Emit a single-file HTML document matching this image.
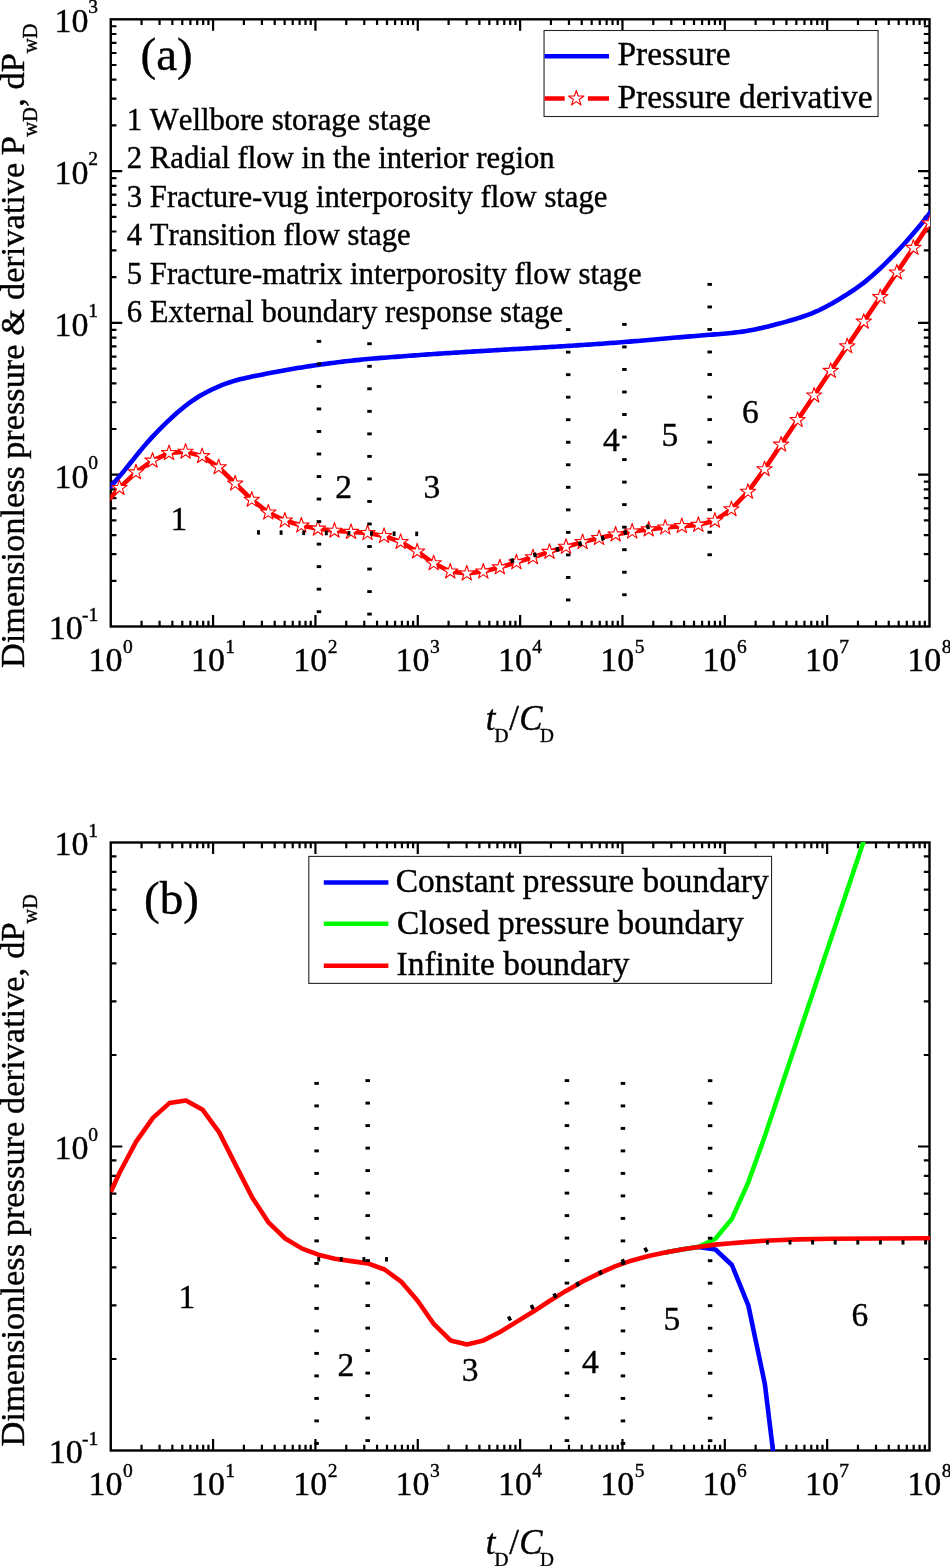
<!DOCTYPE html><html><head><meta charset="utf-8"><title>Figure</title><style>html,body{margin:0;padding:0;background:#fff}svg{display:block}text{font-family:'Liberation Serif',serif;fill:#000;stroke:#000;stroke-width:0.4px;font-kerning:none;font-variant-ligatures:none}</style></head><body>
<svg style="will-change:transform" width="950" height="1566" viewBox="0 0 950 1566">
<rect width="950" height="1566" fill="#fff"/>
<clipPath id="ca"><rect x="110.3" y="18.85" width="819.7" height="608.15"/></clipPath>
<clipPath id="cb"><rect x="110.3" y="842.05" width="819.7" height="608.95"/></clipPath>
<path d="M141.56 19.3v5.7M141.56 626.5v-5.7M159.58 19.3v5.7M159.58 626.5v-5.7M172.37 19.3v5.7M172.37 626.5v-5.7M182.29 19.3v5.7M182.29 626.5v-5.7M190.39 19.3v5.7M190.39 626.5v-5.7M197.24 19.3v5.7M197.24 626.5v-5.7M203.18 19.3v5.7M203.18 626.5v-5.7M208.41 19.3v5.7M208.41 626.5v-5.7M213.09 19.3v11.5M213.09 626.5v-11.5M243.9 19.3v5.7M243.9 626.5v-5.7M261.92 19.3v5.7M261.92 626.5v-5.7M274.71 19.3v5.7M274.71 626.5v-5.7M284.63 19.3v5.7M284.63 626.5v-5.7M292.73 19.3v5.7M292.73 626.5v-5.7M299.58 19.3v5.7M299.58 626.5v-5.7M305.52 19.3v5.7M305.52 626.5v-5.7M310.75 19.3v5.7M310.75 626.5v-5.7M315.44 19.3v11.5M315.44 626.5v-11.5M346.25 19.3v5.7M346.25 626.5v-5.7M364.27 19.3v5.7M364.27 626.5v-5.7M377.05 19.3v5.7M377.05 626.5v-5.7M386.97 19.3v5.7M386.97 626.5v-5.7M395.08 19.3v5.7M395.08 626.5v-5.7M401.93 19.3v5.7M401.93 626.5v-5.7M407.86 19.3v5.7M407.86 626.5v-5.7M413.1 19.3v5.7M413.1 626.5v-5.7M417.78 19.3v11.5M417.78 626.5v-11.5M448.59 19.3v5.7M448.59 626.5v-5.7M466.61 19.3v5.7M466.61 626.5v-5.7M479.4 19.3v5.7M479.4 626.5v-5.7M489.32 19.3v5.7M489.32 626.5v-5.7M497.42 19.3v5.7M497.42 626.5v-5.7M504.27 19.3v5.7M504.27 626.5v-5.7M510.21 19.3v5.7M510.21 626.5v-5.7M515.44 19.3v5.7M515.44 626.5v-5.7M520.12 19.3v11.5M520.12 626.5v-11.5M550.93 19.3v5.7M550.93 626.5v-5.7M568.96 19.3v5.7M568.96 626.5v-5.7M581.74 19.3v5.7M581.74 626.5v-5.7M591.66 19.3v5.7M591.66 626.5v-5.7M599.76 19.3v5.7M599.76 626.5v-5.7M606.62 19.3v5.7M606.62 626.5v-5.7M612.55 19.3v5.7M612.55 626.5v-5.7M617.79 19.3v5.7M617.79 626.5v-5.7M622.47 19.3v11.5M622.47 626.5v-11.5M653.28 19.3v5.7M653.28 626.5v-5.7M671.3 19.3v5.7M671.3 626.5v-5.7M684.09 19.3v5.7M684.09 626.5v-5.7M694 19.3v5.7M694 626.5v-5.7M702.11 19.3v5.7M702.11 626.5v-5.7M708.96 19.3v5.7M708.96 626.5v-5.7M714.89 19.3v5.7M714.89 626.5v-5.7M720.13 19.3v5.7M720.13 626.5v-5.7M724.81 19.3v11.5M724.81 626.5v-11.5M755.62 19.3v5.7M755.62 626.5v-5.7M773.64 19.3v5.7M773.64 626.5v-5.7M786.43 19.3v5.7M786.43 626.5v-5.7M796.35 19.3v5.7M796.35 626.5v-5.7M804.45 19.3v5.7M804.45 626.5v-5.7M811.3 19.3v5.7M811.3 626.5v-5.7M817.24 19.3v5.7M817.24 626.5v-5.7M822.47 19.3v5.7M822.47 626.5v-5.7M827.16 19.3v11.5M827.16 626.5v-11.5M857.96 19.3v5.7M857.96 626.5v-5.7M875.99 19.3v5.7M875.99 626.5v-5.7M888.77 19.3v5.7M888.77 626.5v-5.7M898.69 19.3v5.7M898.69 626.5v-5.7M906.8 19.3v5.7M906.8 626.5v-5.7M913.65 19.3v5.7M913.65 626.5v-5.7M919.58 19.3v5.7M919.58 626.5v-5.7M924.82 19.3v5.7M924.82 626.5v-5.7M110.75 580.8h5.7M929.5 580.8h-5.7M110.75 554.07h5.7M929.5 554.07h-5.7M110.75 535.11h5.7M929.5 535.11h-5.7M110.75 520.4h5.7M929.5 520.4h-5.7M110.75 508.38h5.7M929.5 508.38h-5.7M110.75 498.21h5.7M929.5 498.21h-5.7M110.75 489.41h5.7M929.5 489.41h-5.7M110.75 481.65h5.7M929.5 481.65h-5.7M110.75 474.7h11.5M929.5 474.7h-11.5M110.75 429h5.7M929.5 429h-5.7M110.75 402.27h5.7M929.5 402.27h-5.7M110.75 383.31h5.7M929.5 383.31h-5.7M110.75 368.6h5.7M929.5 368.6h-5.7M110.75 356.58h5.7M929.5 356.58h-5.7M110.75 346.41h5.7M929.5 346.41h-5.7M110.75 337.61h5.7M929.5 337.61h-5.7M110.75 329.85h5.7M929.5 329.85h-5.7M110.75 322.9h11.5M929.5 322.9h-11.5M110.75 277.2h5.7M929.5 277.2h-5.7M110.75 250.47h5.7M929.5 250.47h-5.7M110.75 231.51h5.7M929.5 231.51h-5.7M110.75 216.8h5.7M929.5 216.8h-5.7M110.75 204.78h5.7M929.5 204.78h-5.7M110.75 194.61h5.7M929.5 194.61h-5.7M110.75 185.81h5.7M929.5 185.81h-5.7M110.75 178.05h5.7M929.5 178.05h-5.7M110.75 171.1h11.5M929.5 171.1h-11.5M110.75 125.4h5.7M929.5 125.4h-5.7M110.75 98.67h5.7M929.5 98.67h-5.7M110.75 79.71h5.7M929.5 79.71h-5.7M110.75 65h5.7M929.5 65h-5.7M110.75 52.98h5.7M929.5 52.98h-5.7M110.75 42.81h5.7M929.5 42.81h-5.7M110.75 34.01h5.7M929.5 34.01h-5.7M110.75 26.25h5.7M929.5 26.25h-5.7" stroke="#000" stroke-width="2.2" fill="none"/>
<text x="122.55" y="671.1" font-size="34" text-anchor="end">10</text><text x="122.95" y="653.1" font-size="19.5">0</text>
<text x="224.89" y="671.1" font-size="34" text-anchor="end">10</text><text x="225.29" y="653.1" font-size="19.5">1</text>
<text x="327.24" y="671.1" font-size="34" text-anchor="end">10</text><text x="327.64" y="653.1" font-size="19.5">2</text>
<text x="429.58" y="671.1" font-size="34" text-anchor="end">10</text><text x="429.98" y="653.1" font-size="19.5">3</text>
<text x="531.92" y="671.1" font-size="34" text-anchor="end">10</text><text x="532.33" y="653.1" font-size="19.5">4</text>
<text x="634.27" y="671.1" font-size="34" text-anchor="end">10</text><text x="634.67" y="653.1" font-size="19.5">5</text>
<text x="736.61" y="671.1" font-size="34" text-anchor="end">10</text><text x="737.01" y="653.1" font-size="19.5">6</text>
<text x="838.96" y="671.1" font-size="34" text-anchor="end">10</text><text x="839.36" y="653.1" font-size="19.5">7</text>
<text x="941.3" y="671.1" font-size="34" text-anchor="end">10</text><text x="941.7" y="653.1" font-size="19.5">8</text>
<text x="82.8" y="639.3" font-size="34" text-anchor="end">10</text><text x="82" y="620.6" font-size="19.5">-1</text>
<text x="88.5" y="487.5" font-size="34" text-anchor="end">10</text><text x="88.3" y="468.8" font-size="19.5">0</text>
<text x="88.5" y="335.7" font-size="34" text-anchor="end">10</text><text x="88.3" y="317" font-size="19.5">1</text>
<text x="88.5" y="183.9" font-size="34" text-anchor="end">10</text><text x="88.3" y="165.2" font-size="19.5">2</text>
<text x="88.5" y="32.1" font-size="34" text-anchor="end">10</text><text x="88.3" y="13.4" font-size="19.5">3</text>
<text y="729.5" font-size="34.8"><tspan x="485.8" font-style="italic">t</tspan><tspan x="494.6" font-size="19.3" dy="12.9">D</tspan><tspan x="509.2" dy="-12.9">/</tspan><tspan x="519.3" font-style="italic">C</tspan><tspan x="540.1" font-size="19.3" dy="12.9">D</tspan></text>
<rect x="110.75" y="19.3" width="818.75" height="607.2" fill="none" stroke="#000" stroke-width="2.4"/>
<text x="126.8" y="129.9" font-size="30.7">1 Wellbore storage stage</text>
<text x="126.8" y="168.3" font-size="30.7">2 Radial flow in the interior region</text>
<text x="126.8" y="206.7" font-size="30.7">3 Fracture-vug interporosity flow stage</text>
<text x="126.8" y="245.1" font-size="30.7">4 Transition flow stage</text>
<text x="126.8" y="283.5" font-size="30.7">5 Fracture-matrix interporosity flow stage</text>
<text x="126.8" y="321.9" font-size="30.7">6 External boundary response stage</text>
<text x="140.6" y="70.4" font-size="47">(a)</text>
<g clip-path="url(#ca)">
<path d="M108.75 488.14 L111.51 485.31 L114.26 482.33 L117.02 479.23 L119.77 476.03 L122.53 472.73 L125.28 469.37 L128.04 465.97 L130.79 462.53 L133.55 459.09 L136.3 455.66 L139.06 452.26 L141.81 448.91 L144.57 445.64 L147.32 442.45 L150.08 439.36 L152.83 436.38 L155.59 433.47 L158.34 430.64 L161.1 427.87 L163.85 425.15 L166.61 422.47 L169.36 419.84 L172.12 417.26 L174.87 414.75 L177.63 412.31 L180.38 409.95 L183.14 407.68 L185.89 405.5 L188.65 403.42 L191.4 401.43 L194.16 399.53 L196.91 397.73 L199.67 396.03 L202.42 394.42 L205.18 392.9 L207.93 391.46 L210.69 390.09 L213.44 388.78 L216.2 387.54 L218.95 386.36 L221.71 385.23 L224.46 384.17 L227.22 383.17 L229.97 382.23 L232.73 381.36 L235.48 380.54 L238.24 379.78 L240.99 379.08 L243.75 378.41 L246.5 377.78 L249.26 377.17 L252.01 376.59 L254.77 376.03 L257.52 375.48 L260.28 374.94 L263.03 374.4 L265.79 373.86 L268.54 373.33 L271.3 372.8 L274.05 372.27 L276.81 371.75 L279.56 371.23 L282.32 370.72 L285.07 370.22 L287.83 369.72 L290.58 369.24 L293.34 368.76 L296.09 368.3 L298.85 367.84 L301.6 367.4 L304.36 366.96 L307.11 366.54 L309.87 366.12 L312.62 365.71 L315.38 365.31 L318.13 364.91 L320.89 364.52 L323.64 364.14 L326.4 363.76 L329.15 363.39 L331.91 363.03 L334.66 362.67 L337.42 362.32 L340.17 361.98 L342.93 361.65 L345.68 361.33 L348.44 361.01 L351.19 360.71 L353.95 360.41 L356.7 360.12 L359.46 359.84 L362.21 359.57 L364.97 359.31 L367.72 359.06 L370.48 358.81 L373.23 358.58 L375.99 358.35 L378.74 358.13 L381.5 357.91 L384.25 357.69 L387.01 357.48 L389.76 357.27 L392.52 357.06 L395.27 356.86 L398.03 356.65 L400.78 356.44 L403.54 356.23 L406.29 356.02 L409.05 355.81 L411.8 355.61 L414.56 355.4 L417.31 355.2 L420.07 355 L422.82 354.8 L425.58 354.6 L428.33 354.41 L431.09 354.22 L433.84 354.03 L436.6 353.84 L439.35 353.66 L442.11 353.48 L444.86 353.3 L447.62 353.12 L450.37 352.94 L453.13 352.77 L455.88 352.6 L458.64 352.43 L461.39 352.26 L464.15 352.09 L466.9 351.92 L469.66 351.75 L472.41 351.59 L475.17 351.42 L477.92 351.26 L480.68 351.1 L483.43 350.93 L486.19 350.77 L488.94 350.61 L491.7 350.45 L494.45 350.29 L497.21 350.13 L499.96 349.97 L502.72 349.81 L505.47 349.64 L508.23 349.48 L510.98 349.32 L513.74 349.16 L516.49 349 L519.25 348.84 L522 348.68 L524.76 348.52 L527.51 348.36 L530.27 348.2 L533.02 348.03 L535.78 347.87 L538.53 347.71 L541.29 347.54 L544.04 347.38 L546.8 347.21 L549.55 347.05 L552.31 346.88 L555.06 346.71 L557.82 346.54 L560.57 346.37 L563.33 346.2 L566.08 346.03 L568.84 345.86 L571.59 345.69 L574.35 345.51 L577.1 345.34 L579.86 345.16 L582.61 344.98 L585.37 344.8 L588.12 344.62 L590.88 344.43 L593.63 344.25 L596.39 344.06 L599.14 343.87 L601.9 343.67 L604.65 343.48 L607.41 343.28 L610.16 343.08 L612.92 342.88 L615.67 342.67 L618.43 342.46 L621.18 342.25 L623.94 342.04 L626.69 341.82 L629.45 341.6 L632.2 341.37 L634.96 341.15 L637.71 340.92 L640.47 340.69 L643.22 340.45 L645.98 340.22 L648.73 339.98 L651.49 339.74 L654.24 339.51 L657 339.27 L659.75 339.02 L662.51 338.78 L665.26 338.54 L668.02 338.3 L670.77 338.06 L673.53 337.82 L676.28 337.58 L679.04 337.34 L681.79 337.1 L684.55 336.87 L687.3 336.63 L690.06 336.4 L692.81 336.17 L695.57 335.94 L698.32 335.71 L701.08 335.48 L703.83 335.26 L706.59 335.04 L709.34 334.83 L712.1 334.62 L714.85 334.4 L717.61 334.19 L720.36 333.97 L723.12 333.74 L725.87 333.49 L728.63 333.24 L731.38 332.96 L734.14 332.66 L736.89 332.33 L739.65 331.98 L742.4 331.6 L745.16 331.19 L747.91 330.74 L750.67 330.26 L753.42 329.75 L756.18 329.19 L758.93 328.6 L761.69 327.98 L764.44 327.34 L767.2 326.67 L769.95 325.99 L772.71 325.28 L775.46 324.57 L778.22 323.85 L780.97 323.11 L783.73 322.36 L786.48 321.59 L789.24 320.81 L791.99 320 L794.75 319.18 L797.5 318.33 L800.26 317.45 L803.01 316.54 L805.77 315.59 L808.52 314.59 L811.28 313.53 L814.03 312.41 L816.79 311.23 L819.54 309.97 L822.3 308.63 L825.05 307.22 L827.81 305.75 L830.56 304.23 L833.32 302.66 L836.07 301.05 L838.83 299.41 L841.58 297.74 L844.34 296.05 L847.09 294.33 L849.85 292.56 L852.6 290.75 L855.36 288.87 L858.11 286.93 L860.87 284.91 L863.62 282.81 L866.38 280.61 L869.13 278.33 L871.89 275.97 L874.64 273.54 L877.4 271.03 L880.15 268.46 L882.91 265.84 L885.66 263.16 L888.42 260.42 L891.17 257.64 L893.93 254.81 L896.68 251.93 L899.44 248.99 L902.19 246.01 L904.95 242.97 L907.7 239.88 L910.46 236.74 L913.21 233.55 L915.97 230.3 L918.72 227 L921.48 223.65 L924.23 220.25 L926.99 216.79 L929.74 213.29 L932.5 209.72" fill="none" stroke="#0000ff" stroke-width="4.6" stroke-linejoin="round"/>
<path d="M108.75 499.82 L119.44 487.95 L135.98 472.37 L152.52 460.63 L169.06 453.08 L185.6 451.68 L202.14 456.15 L218.68 467.24 L235.22 483.51 L251.76 499.74 L268.3 512.51 L284.84 520.51 L301.38 525.51 L317.92 528.67 L334.46 530.7 L351 531.9 L367.54 533.05 L384.08 535.99 L400.62 541.95 L417.16 551.47 L433.7 563.26 L450.24 571.47 L466.78 573.52 L483.32 571.55 L499.86 567.37 L516.4 562.32 L532.94 557.26 L549.48 551.85 L566.02 546.8 L582.56 542.12 L599.1 538.07 L615.64 534.46 L632.18 531.56 L648.72 529.41 L665.26 527.56 L681.8 526.12 L698.34 524.86 L714.88 520.71 L731.42 509.2 L747.96 491.77 L764.5 469.21 L781.04 444.62 L797.58 420.03 L814.12 395.43 L830.66 370.84 L847.2 346.24 L863.74 321.65 L880.28 297.05 L896.82 272.46 L913.36 247.86 L929.9 223.27 L933 218.66" fill="none" stroke="#ff0000" stroke-width="4.6" stroke-linejoin="round"/>
<g fill="#fff" stroke="#ff0000" stroke-width="1.1" stroke-linejoin="round">
<polygon points="119.44,479.85 121.26,485.44 127.14,485.44 122.39,488.91 124.2,494.5 119.44,491.05 114.68,494.5 116.49,488.91 111.74,485.44 117.62,485.44"/>
<polygon points="135.98,464.27 137.8,469.86 143.68,469.87 138.93,473.33 140.74,478.92 135.98,475.47 131.22,478.92 133.03,473.33 128.28,469.87 134.16,469.86"/>
<polygon points="152.52,452.53 154.34,458.12 160.22,458.13 155.47,461.59 157.28,467.18 152.52,463.73 147.76,467.18 149.57,461.59 144.82,458.13 150.7,458.12"/>
<polygon points="169.06,444.98 170.88,450.57 176.76,450.58 172.01,454.04 173.82,459.63 169.06,456.18 164.3,459.63 166.11,454.04 161.36,450.58 167.24,450.57"/>
<polygon points="185.6,443.58 187.42,449.17 193.3,449.18 188.55,452.64 190.36,458.23 185.6,454.78 180.84,458.23 182.65,452.64 177.9,449.18 183.78,449.17"/>
<polygon points="202.14,448.05 203.96,453.64 209.84,453.65 205.09,457.11 206.9,462.7 202.14,459.25 197.38,462.7 199.19,457.11 194.44,453.65 200.32,453.64"/>
<polygon points="218.68,459.14 220.5,464.73 226.38,464.74 221.63,468.2 223.44,473.79 218.68,470.34 213.92,473.79 215.73,468.2 210.98,464.74 216.86,464.73"/>
<polygon points="235.22,475.41 237.04,481.01 242.92,481.01 238.17,484.47 239.98,490.07 235.22,486.61 230.46,490.07 232.27,484.47 227.52,481.01 233.4,481.01"/>
<polygon points="251.76,491.64 253.58,497.23 259.46,497.23 254.71,500.69 256.52,506.29 251.76,502.84 247,506.29 248.81,500.69 244.06,497.23 249.94,497.23"/>
<polygon points="268.3,504.41 270.12,510 276,510.01 271.25,513.47 273.06,519.06 268.3,515.61 263.54,519.06 265.35,513.47 260.6,510.01 266.48,510"/>
<polygon points="284.84,512.41 286.66,518 292.54,518 287.79,521.46 289.6,527.06 284.84,523.61 280.08,527.06 281.89,521.46 277.14,518 283.02,518"/>
<polygon points="301.38,517.41 303.2,523.01 309.08,523.01 304.33,526.47 306.14,532.07 301.38,528.61 296.62,532.07 298.43,526.47 293.68,523.01 299.56,523.01"/>
<polygon points="317.92,520.57 319.74,526.16 325.62,526.17 320.87,529.63 322.68,535.23 317.92,531.77 313.16,535.23 314.97,529.63 310.22,526.17 316.1,526.16"/>
<polygon points="334.46,522.6 336.28,528.19 342.16,528.19 337.41,531.65 339.22,537.25 334.46,533.8 329.7,537.25 331.51,531.65 326.76,528.19 332.64,528.19"/>
<polygon points="351,523.8 352.82,529.4 358.7,529.4 353.95,532.86 355.76,538.46 351,535 346.24,538.46 348.05,532.86 343.3,529.4 349.18,529.4"/>
<polygon points="367.54,524.95 369.36,530.54 375.24,530.54 370.49,534.01 372.3,539.6 367.54,536.15 362.78,539.6 364.59,534.01 359.84,530.54 365.72,530.54"/>
<polygon points="384.08,527.89 385.9,533.49 391.78,533.49 387.03,536.95 388.84,542.55 384.08,539.09 379.32,542.55 381.13,536.95 376.38,533.49 382.26,533.49"/>
<polygon points="400.62,533.85 402.44,539.44 408.32,539.44 403.57,542.9 405.38,548.5 400.62,545.05 395.86,548.5 397.67,542.9 392.92,539.44 398.8,539.44"/>
<polygon points="417.16,543.37 418.98,548.96 424.86,548.96 420.11,552.42 421.92,558.02 417.16,554.57 412.4,558.02 414.21,552.42 409.46,548.96 415.34,548.96"/>
<polygon points="433.7,555.16 435.52,560.75 441.4,560.75 436.65,564.21 438.46,569.81 433.7,566.36 428.94,569.81 430.75,564.21 426,560.75 431.88,560.75"/>
<polygon points="450.24,563.37 452.06,568.96 457.94,568.97 453.19,572.43 455,578.02 450.24,574.57 445.48,578.02 447.29,572.43 442.54,568.97 448.42,568.96"/>
<polygon points="466.78,565.42 468.6,571.01 474.48,571.02 469.73,574.48 471.54,580.07 466.78,576.62 462.02,580.07 463.83,574.48 459.08,571.02 464.96,571.01"/>
<polygon points="483.32,563.45 485.14,569.04 491.02,569.05 486.27,572.51 488.08,578.11 483.32,574.65 478.56,578.11 480.37,572.51 475.62,569.05 481.5,569.04"/>
<polygon points="499.86,559.27 501.68,564.86 507.56,564.86 502.81,568.32 504.62,573.92 499.86,570.47 495.1,573.92 496.91,568.32 492.16,564.86 498.04,564.86"/>
<polygon points="516.4,554.22 518.22,559.81 524.1,559.81 519.35,563.27 521.16,568.87 516.4,565.42 511.64,568.87 513.45,563.27 508.7,559.81 514.58,559.81"/>
<polygon points="532.94,549.16 534.76,554.75 540.64,554.76 535.89,558.22 537.7,563.81 532.94,560.36 528.18,563.81 529.99,558.22 525.24,554.76 531.12,554.75"/>
<polygon points="549.48,543.75 551.3,549.35 557.18,549.35 552.43,552.81 554.24,558.41 549.48,554.95 544.72,558.41 546.53,552.81 541.78,549.35 547.66,549.35"/>
<polygon points="566.02,538.7 567.84,544.29 573.72,544.3 568.97,547.76 570.78,553.35 566.02,549.9 561.26,553.35 563.07,547.76 558.32,544.3 564.2,544.29"/>
<polygon points="582.56,534.02 584.38,539.61 590.26,539.62 585.51,543.08 587.32,548.67 582.56,545.22 577.8,548.67 579.61,543.08 574.86,539.62 580.74,539.61"/>
<polygon points="599.1,529.97 600.92,535.56 606.8,535.56 602.05,539.02 603.86,544.62 599.1,541.17 594.34,544.62 596.15,539.02 591.4,535.56 597.28,535.56"/>
<polygon points="615.64,526.36 617.46,531.96 623.34,531.96 618.59,535.42 620.4,541.02 615.64,537.56 610.88,541.02 612.69,535.42 607.94,531.96 613.82,531.96"/>
<polygon points="632.18,523.46 634,529.06 639.88,529.06 635.13,532.52 636.94,538.12 632.18,534.66 627.42,538.12 629.23,532.52 624.48,529.06 630.36,529.06"/>
<polygon points="648.72,521.31 650.54,526.91 656.42,526.91 651.67,530.37 653.48,535.97 648.72,532.51 643.96,535.97 645.77,530.37 641.02,526.91 646.9,526.91"/>
<polygon points="665.26,519.46 667.08,525.06 672.96,525.06 668.21,528.52 670.02,534.12 665.26,530.66 660.5,534.12 662.31,528.52 657.56,525.06 663.44,525.06"/>
<polygon points="681.8,518.02 683.62,523.61 689.5,523.61 684.75,527.07 686.56,532.67 681.8,529.22 677.04,532.67 678.85,527.07 674.1,523.61 679.98,523.61"/>
<polygon points="698.34,516.76 700.16,522.35 706.04,522.35 701.29,525.81 703.1,531.41 698.34,527.96 693.58,531.41 695.39,525.81 690.64,522.35 696.52,522.35"/>
<polygon points="714.88,512.61 716.7,518.2 722.58,518.2 717.83,521.67 719.64,527.26 714.88,523.81 710.12,527.26 711.93,521.67 707.18,518.2 713.06,518.2"/>
<polygon points="731.42,501.1 733.24,506.69 739.12,506.7 734.37,510.16 736.18,515.75 731.42,512.3 726.66,515.75 728.47,510.16 723.72,506.7 729.6,506.69"/>
<polygon points="747.96,483.67 749.78,489.26 755.66,489.26 750.91,492.72 752.72,498.32 747.96,494.87 743.2,498.32 745.01,492.72 740.26,489.26 746.14,489.26"/>
<polygon points="764.5,461.11 766.32,466.7 772.2,466.71 767.45,470.17 769.26,475.76 764.5,472.31 759.74,475.76 761.55,470.17 756.8,466.71 762.68,466.7"/>
<polygon points="781.04,436.52 782.86,442.12 788.74,442.12 783.99,445.58 785.8,451.18 781.04,447.72 776.28,451.18 778.09,445.58 773.34,442.12 779.22,442.12"/>
<polygon points="797.58,411.93 799.4,417.52 805.28,417.53 800.53,420.99 802.34,426.58 797.58,423.13 792.82,426.58 794.63,420.99 789.88,417.53 795.76,417.52"/>
<polygon points="814.12,387.33 815.94,392.93 821.82,392.93 817.07,396.39 818.88,401.99 814.12,398.53 809.36,401.99 811.17,396.39 806.42,392.93 812.3,392.93"/>
<polygon points="830.66,362.74 832.48,368.33 838.36,368.34 833.61,371.8 835.42,377.39 830.66,373.94 825.9,377.39 827.71,371.8 822.96,368.34 828.84,368.33"/>
<polygon points="847.2,338.14 849.02,343.74 854.9,343.74 850.15,347.2 851.96,352.8 847.2,349.34 842.44,352.8 844.25,347.2 839.5,343.74 845.38,343.74"/>
<polygon points="863.74,313.55 865.56,319.14 871.44,319.15 866.69,322.61 868.5,328.2 863.74,324.75 858.98,328.2 860.79,322.61 856.04,319.15 861.92,319.14"/>
<polygon points="880.28,288.95 882.1,294.55 887.98,294.55 883.23,298.01 885.04,303.61 880.28,300.15 875.52,303.61 877.33,298.01 872.58,294.55 878.46,294.55"/>
<polygon points="896.82,264.36 898.64,269.95 904.52,269.96 899.77,273.42 901.58,279.01 896.82,275.56 892.06,279.01 893.87,273.42 889.12,269.96 895,269.95"/>
<polygon points="913.36,239.76 915.18,245.36 921.06,245.36 916.31,248.82 918.12,254.42 913.36,250.96 908.6,254.42 910.41,248.82 905.66,245.36 911.54,245.36"/>
<polygon points="929.9,215.17 931.72,220.76 937.6,220.77 932.85,224.23 934.66,229.82 929.9,226.37 925.14,229.82 926.95,224.23 922.2,220.77 928.08,220.76"/>
</g></g>
<g fill="#000"><rect x="316.7" y="339.9" width="4.5" height="2.9"/><rect x="316.7" y="362.43" width="4.5" height="2.9"/><rect x="316.7" y="384.96" width="4.5" height="2.9"/><rect x="316.7" y="407.49" width="4.5" height="2.9"/><rect x="316.7" y="430.02" width="4.5" height="2.9"/><rect x="316.7" y="452.55" width="4.5" height="2.9"/><rect x="316.7" y="475.08" width="4.5" height="2.9"/><rect x="316.7" y="497.61" width="4.5" height="2.9"/><rect x="316.7" y="520.14" width="4.5" height="2.9"/><rect x="316.7" y="542.67" width="4.5" height="2.9"/><rect x="316.7" y="565.2" width="4.5" height="2.9"/><rect x="316.7" y="587.73" width="4.5" height="2.9"/><rect x="316.7" y="610.26" width="4.5" height="2.9"/><rect x="367.25" y="342.3" width="4.5" height="2.9"/><rect x="367.25" y="364.83" width="4.5" height="2.9"/><rect x="367.25" y="387.36" width="4.5" height="2.9"/><rect x="367.25" y="409.89" width="4.5" height="2.9"/><rect x="367.25" y="432.42" width="4.5" height="2.9"/><rect x="367.25" y="454.95" width="4.5" height="2.9"/><rect x="367.25" y="477.48" width="4.5" height="2.9"/><rect x="367.25" y="500.01" width="4.5" height="2.9"/><rect x="367.25" y="522.54" width="4.5" height="2.9"/><rect x="367.25" y="545.07" width="4.5" height="2.9"/><rect x="367.25" y="567.6" width="4.5" height="2.9"/><rect x="367.25" y="590.13" width="4.5" height="2.9"/><rect x="367.25" y="612.66" width="4.5" height="2.9"/><rect x="565.95" y="328.15" width="4.5" height="2.9"/><rect x="565.95" y="350.68" width="4.5" height="2.9"/><rect x="565.95" y="373.21" width="4.5" height="2.9"/><rect x="565.95" y="395.74" width="4.5" height="2.9"/><rect x="565.95" y="418.27" width="4.5" height="2.9"/><rect x="565.95" y="440.8" width="4.5" height="2.9"/><rect x="565.95" y="463.33" width="4.5" height="2.9"/><rect x="565.95" y="485.86" width="4.5" height="2.9"/><rect x="565.95" y="508.39" width="4.5" height="2.9"/><rect x="565.95" y="530.92" width="4.5" height="2.9"/><rect x="565.95" y="553.45" width="4.5" height="2.9"/><rect x="565.95" y="575.98" width="4.5" height="2.9"/><rect x="565.95" y="598.51" width="4.5" height="2.9"/><rect x="622.15" y="322.95" width="4.5" height="2.9"/><rect x="622.15" y="345.48" width="4.5" height="2.9"/><rect x="622.15" y="368.01" width="4.5" height="2.9"/><rect x="622.15" y="390.54" width="4.5" height="2.9"/><rect x="622.15" y="413.07" width="4.5" height="2.9"/><rect x="622.15" y="435.6" width="4.5" height="2.9"/><rect x="622.15" y="458.13" width="4.5" height="2.9"/><rect x="622.15" y="480.66" width="4.5" height="2.9"/><rect x="622.15" y="503.19" width="4.5" height="2.9"/><rect x="622.15" y="525.72" width="4.5" height="2.9"/><rect x="622.15" y="548.25" width="4.5" height="2.9"/><rect x="622.15" y="570.78" width="4.5" height="2.9"/><rect x="622.15" y="593.31" width="4.5" height="2.9"/><rect x="707.45" y="282.95" width="4.5" height="2.9"/><rect x="707.45" y="305.48" width="4.5" height="2.9"/><rect x="707.45" y="328.01" width="4.5" height="2.9"/><rect x="707.45" y="350.54" width="4.5" height="2.9"/><rect x="707.45" y="373.07" width="4.5" height="2.9"/><rect x="707.45" y="395.6" width="4.5" height="2.9"/><rect x="707.45" y="418.13" width="4.5" height="2.9"/><rect x="707.45" y="440.66" width="4.5" height="2.9"/><rect x="707.45" y="463.19" width="4.5" height="2.9"/><rect x="707.45" y="485.72" width="4.5" height="2.9"/><rect x="707.45" y="508.25" width="4.5" height="2.9"/><rect x="707.45" y="530.78" width="4.5" height="2.9"/><rect x="707.45" y="553.31" width="4.5" height="2.9"/>
<rect x="257.05" y="530.15" width="2.9" height="4.5"/><rect x="279.65" y="530.36" width="2.9" height="4.5"/><rect x="302.25" y="530.57" width="2.9" height="4.5"/><rect x="324.85" y="530.78" width="2.9" height="4.5"/><rect x="347.45" y="530.99" width="2.9" height="4.5"/><rect x="370.05" y="531.2" width="2.9" height="4.5"/><rect x="392.65" y="531.41" width="2.9" height="4.5"/><rect x="415.25" y="531.62" width="2.9" height="4.5"/>
<rect x="510.6" y="558.3" width="3.4" height="4.6" transform="rotate(-14 512.3 560.6)"/><rect x="533.2" y="552.68" width="3.4" height="4.6" transform="rotate(-14 534.9 554.98)"/><rect x="555.8" y="547.06" width="3.4" height="4.6" transform="rotate(-14 557.5 549.36)"/><rect x="578.4" y="541.44" width="3.4" height="4.6" transform="rotate(-14 580.1 543.74)"/><rect x="601" y="535.82" width="3.4" height="4.6" transform="rotate(-14 602.7 538.12)"/><rect x="623.6" y="530.2" width="3.4" height="4.6" transform="rotate(-14 625.3 532.5)"/><rect x="646.2" y="524.58" width="3.4" height="4.6" transform="rotate(-14 647.9 526.88)"/></g>
<text x="170.5" y="530" font-size="33.5">1</text>
<text x="335.2" y="498.4" font-size="33.5">2</text>
<text x="423.4" y="498.2" font-size="33.5">3</text>
<text x="603" y="451.4" font-size="33.5">4</text>
<text x="661.5" y="446.3" font-size="33.5">5</text>
<text x="742" y="422.8" font-size="33.5">6</text>
<rect x="544.05" y="30.5" width="334" height="86" fill="#fff" stroke="#262626" stroke-width="1.1"/>
<path d="M544.5 56.2H609" stroke="#0000ff" stroke-width="4.6"/>
<path d="M544.5 98.5H564.7M587.9 98.5H609" stroke="#ff0000" stroke-width="4.6"/>
<g fill="#fff" stroke="#ff0000" stroke-width="1.1" stroke-linejoin="round"><polygon points="576.3,90.4 578.12,95.99 584,96 579.25,99.46 581.06,105.05 576.3,101.6 571.54,105.05 573.35,99.46 568.6,96 574.48,95.99"/></g>
<text x="617.5" y="65.3" font-size="33.4">Pressure</text>
<text x="617.5" y="108" font-size="33.4">Pressure derivative</text>
<text transform="translate(24.2 0) rotate(-90)" font-size="34.3"><tspan x="-668.1">Dimensionless</tspan><tspan x="-458.8">pressure</tspan><tspan x="-335.7">&amp;</tspan><tspan x="-300">derivative</tspan><tspan x="-155.3">P</tspan><tspan x="-136.8" dy="13.2" font-size="20.6">wD</tspan><tspan x="-106.8" dy="-13.2">,</tspan><tspan x="-89.5">dP</tspan><tspan x="-53.3" dy="13.2" font-size="20.6">wD</tspan></text>
<path d="M141.56 842.5v5.7M141.56 1450.5v-5.7M159.58 842.5v5.7M159.58 1450.5v-5.7M172.37 842.5v5.7M172.37 1450.5v-5.7M182.29 842.5v5.7M182.29 1450.5v-5.7M190.39 842.5v5.7M190.39 1450.5v-5.7M197.24 842.5v5.7M197.24 1450.5v-5.7M203.18 842.5v5.7M203.18 1450.5v-5.7M208.41 842.5v5.7M208.41 1450.5v-5.7M213.09 842.5v11.5M213.09 1450.5v-11.5M243.9 842.5v5.7M243.9 1450.5v-5.7M261.92 842.5v5.7M261.92 1450.5v-5.7M274.71 842.5v5.7M274.71 1450.5v-5.7M284.63 842.5v5.7M284.63 1450.5v-5.7M292.73 842.5v5.7M292.73 1450.5v-5.7M299.58 842.5v5.7M299.58 1450.5v-5.7M305.52 842.5v5.7M305.52 1450.5v-5.7M310.75 842.5v5.7M310.75 1450.5v-5.7M315.44 842.5v11.5M315.44 1450.5v-11.5M346.25 842.5v5.7M346.25 1450.5v-5.7M364.27 842.5v5.7M364.27 1450.5v-5.7M377.05 842.5v5.7M377.05 1450.5v-5.7M386.97 842.5v5.7M386.97 1450.5v-5.7M395.08 842.5v5.7M395.08 1450.5v-5.7M401.93 842.5v5.7M401.93 1450.5v-5.7M407.86 842.5v5.7M407.86 1450.5v-5.7M413.1 842.5v5.7M413.1 1450.5v-5.7M417.78 842.5v11.5M417.78 1450.5v-11.5M448.59 842.5v5.7M448.59 1450.5v-5.7M466.61 842.5v5.7M466.61 1450.5v-5.7M479.4 842.5v5.7M479.4 1450.5v-5.7M489.32 842.5v5.7M489.32 1450.5v-5.7M497.42 842.5v5.7M497.42 1450.5v-5.7M504.27 842.5v5.7M504.27 1450.5v-5.7M510.21 842.5v5.7M510.21 1450.5v-5.7M515.44 842.5v5.7M515.44 1450.5v-5.7M520.12 842.5v11.5M520.12 1450.5v-11.5M550.93 842.5v5.7M550.93 1450.5v-5.7M568.96 842.5v5.7M568.96 1450.5v-5.7M581.74 842.5v5.7M581.74 1450.5v-5.7M591.66 842.5v5.7M591.66 1450.5v-5.7M599.76 842.5v5.7M599.76 1450.5v-5.7M606.62 842.5v5.7M606.62 1450.5v-5.7M612.55 842.5v5.7M612.55 1450.5v-5.7M617.79 842.5v5.7M617.79 1450.5v-5.7M622.47 842.5v11.5M622.47 1450.5v-11.5M653.28 842.5v5.7M653.28 1450.5v-5.7M671.3 842.5v5.7M671.3 1450.5v-5.7M684.09 842.5v5.7M684.09 1450.5v-5.7M694 842.5v5.7M694 1450.5v-5.7M702.11 842.5v5.7M702.11 1450.5v-5.7M708.96 842.5v5.7M708.96 1450.5v-5.7M714.89 842.5v5.7M714.89 1450.5v-5.7M720.13 842.5v5.7M720.13 1450.5v-5.7M724.81 842.5v11.5M724.81 1450.5v-11.5M755.62 842.5v5.7M755.62 1450.5v-5.7M773.64 842.5v5.7M773.64 1450.5v-5.7M786.43 842.5v5.7M786.43 1450.5v-5.7M796.35 842.5v5.7M796.35 1450.5v-5.7M804.45 842.5v5.7M804.45 1450.5v-5.7M811.3 842.5v5.7M811.3 1450.5v-5.7M817.24 842.5v5.7M817.24 1450.5v-5.7M822.47 842.5v5.7M822.47 1450.5v-5.7M827.16 842.5v11.5M827.16 1450.5v-11.5M857.96 842.5v5.7M857.96 1450.5v-5.7M875.99 842.5v5.7M875.99 1450.5v-5.7M888.77 842.5v5.7M888.77 1450.5v-5.7M898.69 842.5v5.7M898.69 1450.5v-5.7M906.8 842.5v5.7M906.8 1450.5v-5.7M913.65 842.5v5.7M913.65 1450.5v-5.7M919.58 842.5v5.7M919.58 1450.5v-5.7M924.82 842.5v5.7M924.82 1450.5v-5.7M110.75 1358.99h5.7M929.5 1358.99h-5.7M110.75 1305.46h5.7M929.5 1305.46h-5.7M110.75 1267.47h5.7M929.5 1267.47h-5.7M110.75 1238.01h5.7M929.5 1238.01h-5.7M110.75 1213.94h5.7M929.5 1213.94h-5.7M110.75 1193.59h5.7M929.5 1193.59h-5.7M110.75 1175.96h5.7M929.5 1175.96h-5.7M110.75 1160.41h5.7M929.5 1160.41h-5.7M110.75 1146.5h11.5M929.5 1146.5h-11.5M110.75 1054.99h5.7M929.5 1054.99h-5.7M110.75 1001.46h5.7M929.5 1001.46h-5.7M110.75 963.47h5.7M929.5 963.47h-5.7M110.75 934.01h5.7M929.5 934.01h-5.7M110.75 909.94h5.7M929.5 909.94h-5.7M110.75 889.59h5.7M929.5 889.59h-5.7M110.75 871.96h5.7M929.5 871.96h-5.7M110.75 856.41h5.7M929.5 856.41h-5.7" stroke="#000" stroke-width="2.2" fill="none"/>
<text x="122.55" y="1495.1" font-size="34" text-anchor="end">10</text><text x="122.95" y="1477.1" font-size="19.5">0</text>
<text x="224.89" y="1495.1" font-size="34" text-anchor="end">10</text><text x="225.29" y="1477.1" font-size="19.5">1</text>
<text x="327.24" y="1495.1" font-size="34" text-anchor="end">10</text><text x="327.64" y="1477.1" font-size="19.5">2</text>
<text x="429.58" y="1495.1" font-size="34" text-anchor="end">10</text><text x="429.98" y="1477.1" font-size="19.5">3</text>
<text x="531.92" y="1495.1" font-size="34" text-anchor="end">10</text><text x="532.33" y="1477.1" font-size="19.5">4</text>
<text x="634.27" y="1495.1" font-size="34" text-anchor="end">10</text><text x="634.67" y="1477.1" font-size="19.5">5</text>
<text x="736.61" y="1495.1" font-size="34" text-anchor="end">10</text><text x="737.01" y="1477.1" font-size="19.5">6</text>
<text x="838.96" y="1495.1" font-size="34" text-anchor="end">10</text><text x="839.36" y="1477.1" font-size="19.5">7</text>
<text x="941.3" y="1495.1" font-size="34" text-anchor="end">10</text><text x="941.7" y="1477.1" font-size="19.5">8</text>
<text x="82.8" y="1463.3" font-size="34" text-anchor="end">10</text><text x="82" y="1444.6" font-size="19.5">-1</text>
<text x="88.5" y="1159.3" font-size="34" text-anchor="end">10</text><text x="88.3" y="1140.6" font-size="19.5">0</text>
<text x="88.5" y="855.3" font-size="34" text-anchor="end">10</text><text x="88.3" y="836.6" font-size="19.5">1</text>
<text y="1553.5" font-size="34.8"><tspan x="485.8" font-style="italic">t</tspan><tspan x="494.6" font-size="19.3" dy="12.9">D</tspan><tspan x="509.2" dy="-12.9">/</tspan><tspan x="519.3" font-style="italic">C</tspan><tspan x="540.1" font-size="19.3" dy="12.9">D</tspan></text>
<rect x="110.75" y="842.5" width="818.75" height="608" fill="none" stroke="#000" stroke-width="2.4"/>
<text x="144" y="914.2" font-size="47">(b)</text>
<g clip-path="url(#cb)" fill="none" stroke-width="4.6" stroke-linejoin="round">
<path d="M665.1 1252.4 L681.6 1249.5 L698.1 1247 L715.4 1249.5 L731.9 1265 L748.4 1305.7 L764.9 1384.2 L773.4 1454" stroke="#0000ff"/>
<path d="M665.1 1252.4 L681.6 1249.5 L698.1 1247 L715.4 1238.7 L731.9 1218.9 L748.4 1182.1 L764.7 1136.5 L866.1 833.9" stroke="#00ff00"/>
<path d="M110.75 1192 L119.7 1172.5 L136 1141.8 L152.9 1117.9 L169.4 1103.1 L185.9 1100.4 L202.7 1109.8 L219.2 1132.4 L235.7 1165.1 L252.2 1197.4 L268.7 1222.7 L285.2 1238.5 L302.1 1248.6 L318.3 1254.7 L334.8 1258.7 L351.3 1261.1 L367.8 1263.4 L384.6 1269.5 L401.1 1281.6 L417.6 1300.8 L434 1324.2 L450.5 1340.4 L467 1344.4 L483.5 1340.4 L500 1332 L516.5 1321.9 L533 1311.8 L549.5 1301 L566 1290.9 L582.6 1281.5 L599.1 1273.4 L615.6 1266.2 L632.1 1260.4 L648.6 1256.1 L665.1 1252.4 L681.6 1249.5 L698.1 1247 L714.9 1244.6 L731.4 1243.3 L748 1241.9 L764.5 1240.7 L781 1240 L798.4 1239.4 L832.1 1238.7 L933 1238.3" stroke="#ff0000"/>
</g>
<g fill="#000" clip-path="url(#cb)"><rect x="314.35" y="1081.95" width="4.5" height="2.9"/><rect x="314.35" y="1104.45" width="4.5" height="2.9"/><rect x="314.35" y="1126.95" width="4.5" height="2.9"/><rect x="314.35" y="1149.45" width="4.5" height="2.9"/><rect x="314.35" y="1171.95" width="4.5" height="2.9"/><rect x="314.35" y="1194.45" width="4.5" height="2.9"/><rect x="314.35" y="1216.95" width="4.5" height="2.9"/><rect x="314.35" y="1239.45" width="4.5" height="2.9"/><rect x="314.35" y="1261.95" width="4.5" height="2.9"/><rect x="314.35" y="1284.45" width="4.5" height="2.9"/><rect x="314.35" y="1306.95" width="4.5" height="2.9"/><rect x="314.35" y="1329.45" width="4.5" height="2.9"/><rect x="314.35" y="1351.95" width="4.5" height="2.9"/><rect x="314.35" y="1374.45" width="4.5" height="2.9"/><rect x="314.35" y="1396.95" width="4.5" height="2.9"/><rect x="314.35" y="1419.45" width="4.5" height="2.9"/><rect x="314.35" y="1441.95" width="4.5" height="2.9"/><rect x="365.45" y="1079.15" width="4.5" height="2.9"/><rect x="365.45" y="1101.65" width="4.5" height="2.9"/><rect x="365.45" y="1124.15" width="4.5" height="2.9"/><rect x="365.45" y="1146.65" width="4.5" height="2.9"/><rect x="365.45" y="1169.15" width="4.5" height="2.9"/><rect x="365.45" y="1191.65" width="4.5" height="2.9"/><rect x="365.45" y="1214.15" width="4.5" height="2.9"/><rect x="365.45" y="1236.65" width="4.5" height="2.9"/><rect x="365.45" y="1259.15" width="4.5" height="2.9"/><rect x="365.45" y="1281.65" width="4.5" height="2.9"/><rect x="365.45" y="1304.15" width="4.5" height="2.9"/><rect x="365.45" y="1326.65" width="4.5" height="2.9"/><rect x="365.45" y="1349.15" width="4.5" height="2.9"/><rect x="365.45" y="1371.65" width="4.5" height="2.9"/><rect x="365.45" y="1394.15" width="4.5" height="2.9"/><rect x="365.45" y="1416.65" width="4.5" height="2.9"/><rect x="365.45" y="1439.15" width="4.5" height="2.9"/><rect x="564.7" y="1079.15" width="4.5" height="2.9"/><rect x="564.7" y="1101.65" width="4.5" height="2.9"/><rect x="564.7" y="1124.15" width="4.5" height="2.9"/><rect x="564.7" y="1146.65" width="4.5" height="2.9"/><rect x="564.7" y="1169.15" width="4.5" height="2.9"/><rect x="564.7" y="1191.65" width="4.5" height="2.9"/><rect x="564.7" y="1214.15" width="4.5" height="2.9"/><rect x="564.7" y="1236.65" width="4.5" height="2.9"/><rect x="564.7" y="1259.15" width="4.5" height="2.9"/><rect x="564.7" y="1281.65" width="4.5" height="2.9"/><rect x="564.7" y="1304.15" width="4.5" height="2.9"/><rect x="564.7" y="1326.65" width="4.5" height="2.9"/><rect x="564.7" y="1349.15" width="4.5" height="2.9"/><rect x="564.7" y="1371.65" width="4.5" height="2.9"/><rect x="564.7" y="1394.15" width="4.5" height="2.9"/><rect x="564.7" y="1416.65" width="4.5" height="2.9"/><rect x="564.7" y="1439.15" width="4.5" height="2.9"/><rect x="620.7" y="1081.95" width="4.5" height="2.9"/><rect x="620.7" y="1104.45" width="4.5" height="2.9"/><rect x="620.7" y="1126.95" width="4.5" height="2.9"/><rect x="620.7" y="1149.45" width="4.5" height="2.9"/><rect x="620.7" y="1171.95" width="4.5" height="2.9"/><rect x="620.7" y="1194.45" width="4.5" height="2.9"/><rect x="620.7" y="1216.95" width="4.5" height="2.9"/><rect x="620.7" y="1239.45" width="4.5" height="2.9"/><rect x="620.7" y="1261.95" width="4.5" height="2.9"/><rect x="620.7" y="1284.45" width="4.5" height="2.9"/><rect x="620.7" y="1306.95" width="4.5" height="2.9"/><rect x="620.7" y="1329.45" width="4.5" height="2.9"/><rect x="620.7" y="1351.95" width="4.5" height="2.9"/><rect x="620.7" y="1374.45" width="4.5" height="2.9"/><rect x="620.7" y="1396.95" width="4.5" height="2.9"/><rect x="620.7" y="1419.45" width="4.5" height="2.9"/><rect x="620.7" y="1441.95" width="4.5" height="2.9"/><rect x="707.85" y="1079.25" width="4.5" height="2.9"/><rect x="707.85" y="1101.75" width="4.5" height="2.9"/><rect x="707.85" y="1124.25" width="4.5" height="2.9"/><rect x="707.85" y="1146.75" width="4.5" height="2.9"/><rect x="707.85" y="1169.25" width="4.5" height="2.9"/><rect x="707.85" y="1191.75" width="4.5" height="2.9"/><rect x="707.85" y="1214.25" width="4.5" height="2.9"/><rect x="707.85" y="1236.75" width="4.5" height="2.9"/><rect x="707.85" y="1259.25" width="4.5" height="2.9"/><rect x="707.85" y="1281.75" width="4.5" height="2.9"/><rect x="707.85" y="1304.25" width="4.5" height="2.9"/><rect x="707.85" y="1326.75" width="4.5" height="2.9"/><rect x="707.85" y="1349.25" width="4.5" height="2.9"/><rect x="707.85" y="1371.75" width="4.5" height="2.9"/><rect x="707.85" y="1394.25" width="4.5" height="2.9"/><rect x="707.85" y="1416.75" width="4.5" height="2.9"/><rect x="707.85" y="1439.25" width="4.5" height="2.9"/>
<rect x="317.25" y="1257.05" width="2.9" height="4.5"/><rect x="339.85" y="1257.05" width="2.9" height="4.5"/><rect x="362.45" y="1257.05" width="2.9" height="4.5"/><rect x="385.05" y="1257.05" width="2.9" height="4.5"/><rect x="765.95" y="1240.05" width="2.9" height="4.5"/><rect x="788.55" y="1240.05" width="2.9" height="4.5"/><rect x="811.15" y="1240.05" width="2.9" height="4.5"/><rect x="833.75" y="1240.05" width="2.9" height="4.5"/><rect x="856.35" y="1240.05" width="2.9" height="4.5"/><rect x="878.95" y="1240.05" width="2.9" height="4.5"/><rect x="901.55" y="1240.05" width="2.9" height="4.5"/><rect x="924.15" y="1240.05" width="2.9" height="4.5"/>
<rect x="507.75" y="1316.2" width="3.5" height="4.6" transform="rotate(-26.7 509.5 1318.5)"/><rect x="530.48" y="1304.75" width="3.5" height="4.6" transform="rotate(-26.7 532.23 1307.05)"/><rect x="553.21" y="1293.3" width="3.5" height="4.6" transform="rotate(-26.7 554.96 1295.6)"/><rect x="575.94" y="1281.85" width="3.5" height="4.6" transform="rotate(-26.7 577.69 1284.15)"/><rect x="598.67" y="1270.4" width="3.5" height="4.6" transform="rotate(-26.7 600.42 1272.7)"/><rect x="621.4" y="1258.95" width="3.5" height="4.6" transform="rotate(-26.7 623.15 1261.25)"/><rect x="644.13" y="1247.5" width="3.5" height="4.6" transform="rotate(-26.7 645.88 1249.8)"/></g>
<text x="178.6" y="1307.7" font-size="33.5">1</text>
<text x="337.6" y="1376" font-size="33.5">2</text>
<text x="461.7" y="1380.8" font-size="33.5">3</text>
<text x="582" y="1373.1" font-size="33.5">4</text>
<text x="663.5" y="1330.3" font-size="33.5">5</text>
<text x="851.5" y="1325.9" font-size="33.5">6</text>
<rect x="308.8" y="856.4" width="462.75" height="127" fill="#fff" stroke="#262626" stroke-width="1.1"/>
<path d="M323.8 882.5H388.4" stroke="#0000ff" stroke-width="4.6"/>
<path d="M323.8 923.7H388.4" stroke="#00ff00" stroke-width="4.6"/>
<path d="M323.8 965.8H388.4" stroke="#ff0000" stroke-width="4.6"/>
<text x="395.8" y="891.7" font-size="33.4">Constant pressure boundary</text>
<text x="396.9" y="934.2" font-size="33.4">Closed pressure boundary</text>
<text x="396.6" y="974.9" font-size="33.4">Infinite boundary</text>
<text transform="translate(24.2 0) rotate(-90)" font-size="34.4"><tspan x="-1446.5">Dimensionless</tspan><tspan x="-1236.3">pressure</tspan><tspan x="-1114">derivative,</tspan><tspan x="-958.7">dP</tspan><tspan x="-923.5" dy="13.2" font-size="20.3">wD</tspan></text>
</svg></body></html>
